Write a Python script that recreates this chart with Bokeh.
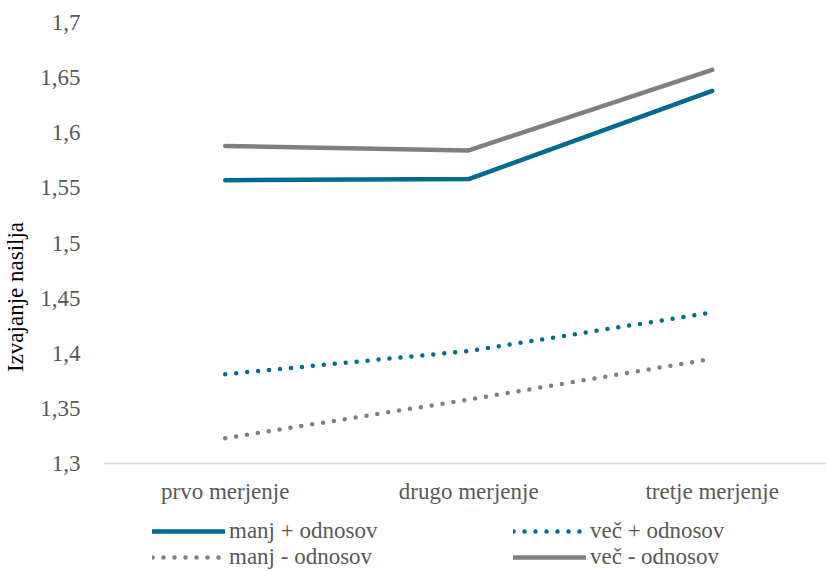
from bokeh.plotting import figure
from bokeh.models import Range1d, FixedTicker, Legend, LegendItem, Span
from bokeh.core.properties import value
from bokeh.embed import file_html
from bokeh.resources import INLINE

# ---- data ----
categories = ["prvo merjenje", "drugo merjenje", "tretje merjenje"]
x_pos = [0, 1, 2]
manj_plus = [1.557, 1.558, 1.638]
vec_plus = [1.381, 1.402, 1.437]
manj_minus = [1.323, 1.358, 1.395]
vec_minus = [1.588, 1.584, 1.657]
y_ticks = [1.3, 1.35, 1.4, 1.45, 1.5, 1.55, 1.6, 1.65, 1.7]
y_tick_labels = ["1,3", "1,35", "1,4", "1,45", "1,5", "1,55", "1,6", "1,65", "1,7"]
series_names = ["manj + odnosov", "več + odnosov", "manj - odnosov", "več - odnosov"]
y_base = 1.3

TEAL = "#006B8F"
GRAY = "#808080"
FONT = "Liberation Serif"
FS = "23px"
TXT = "#595959"

# frame spans down to the bottom of the canvas; value 1.3 sits at the axis line
p = figure(width=826, height=571, output_backend="svg", toolbar_location=None,
           x_range=Range1d(-0.5, 2.4695), y_range=Range1d(1.2020408, 1.7),
           x_axis_location=None,
           min_border_left=97, min_border_right=0, min_border_top=22, min_border_bottom=0)
p.outline_line_color = None
p.xgrid.visible = False
p.ygrid.visible = False
p.background_fill_color = "white"
p.border_fill_color = "white"

# category axis line and labels
p.add_layout(Span(location=y_base, dimension="width", line_color="#D9D9D9", line_width=1.5))
p.text(x=x_pos, y=[y_base] * len(x_pos), text=categories, y_offset=28,
       text_align="center", text_baseline="middle", text_font=value(FONT),
       text_font_size=FS, text_color=TXT)

r1 = p.line(x_pos, manj_plus, line_color=TEAL, line_width=4.5, line_cap="round", line_join="round")
r2 = p.line(x_pos, vec_plus, line_color=TEAL, line_width=4.5, line_cap="round", line_dash="0 11")
r3 = p.line(x_pos, manj_minus, line_color=GRAY, line_width=4.5, line_cap="round", line_dash="0 11")
r4 = p.line(x_pos, vec_minus, line_color=GRAY, line_width=4.5, line_cap="round", line_join="round")

# y axis
ya = p.yaxis[0]
ya.ticker = FixedTicker(ticks=y_ticks)
ya.major_label_overrides = {t: l for t, l in zip(y_ticks, y_tick_labels)}
ya.axis_line_color = None
ya.major_tick_line_color = None
ya.minor_tick_line_color = None
ya.major_label_text_font = FONT
ya.major_label_text_font_size = FS
ya.major_label_text_color = TXT
ya.major_label_standoff = 17
ya.axis_label = "Izvajanje nasilja"
ya.axis_label_text_font = FONT
ya.axis_label_text_font_size = FS
ya.axis_label_text_font_style = "normal"
ya.axis_label_text_color = "#000000"
ya.axis_label_standoff = 9

legend = Legend(items=[LegendItem(label=series_names[0], renderers=[r1]),
                       LegendItem(label=series_names[1], renderers=[r2]),
                       LegendItem(label=series_names[2], renderers=[r3]),
                       LegendItem(label=series_names[3], renderers=[r4])],
                location=(49, 1), orientation="horizontal", ncols=2,
                glyph_width=73, glyph_height=24, label_height=24, label_width=284,
                label_standoff=4, spacing=0, padding=0, margin=0,
                border_line_color=None, background_fill_alpha=0,
                label_text_font=FONT, label_text_font_size=FS, label_text_color=TXT)
p.add_layout(legend, "center")

open("out.html", "w").write(file_html(p, INLINE))
